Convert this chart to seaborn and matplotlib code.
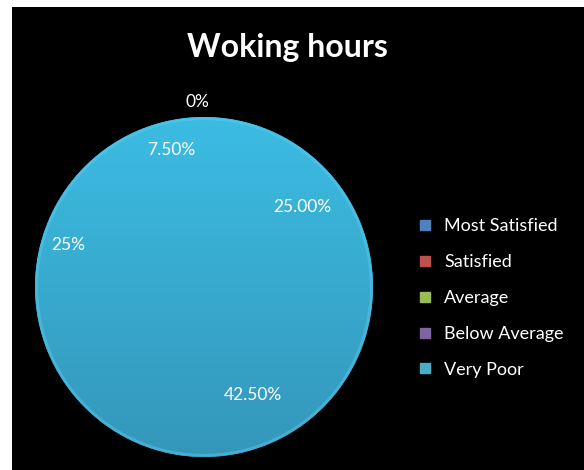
import numpy as np
import matplotlib
matplotlib.use("Agg")
import matplotlib.pyplot as plt
from matplotlib.patches import Rectangle, Circle
from matplotlib.lines import Line2D
import seaborn as sns

# data
categories = ['Most Satisfied', 'Satisfied', 'Average', 'Below Average', 'Very Poor']
shares = [0.0, 25.0, 42.5, 25.0, 7.5]
pct_labels = ['0%', '25.00%', '42.50%', '25%', '7.50%']
title = 'Woking hours'

# legend swatch colours (office palette); the slices themselves are all one cyan
legend_colors = sns.color_palette(['#4F81BD', '#C0504D', '#9BBB59', '#8064A2', '#4BACC6'])
slice_color = '#3AB4DA'
# excel "best fit" label placement: radius and small angle nudge per slice
label_radius = [1.09, 0.75, 0.70, 0.84, 0.83]
label_nudge = [2, -6, 11, 1, 0]

sns.set_style('dark')
plt.rcParams['font.family'] = ['Lato', 'DejaVu Sans']

fig = plt.figure(figsize=(5.84, 4.70), dpi=100, facecolor='white')
# black chart area with the thin white margin on left/top
fig.patches.append(Rectangle((12 / 584, 0), 1 - 12 / 584, 1 - 7 / 470,
                             transform=fig.transFigure, facecolor='black',
                             edgecolor='none', zorder=-5))

ax = fig.add_axes([35 / 584, 13 / 470, 338 / 584, 340 / 470])
ax.set_zorder(2)
ax.set_facecolor('none')
wedges, texts = ax.pie(shares, labels=pct_labels, colors=[slice_color] * len(shares),
                       startangle=90, counterclock=False, labeldistance=0.8,
                       wedgeprops=dict(linewidth=0),
                       textprops=dict(color='white', fontsize=12.5))

# soft vertical shading like the original 3d-ish fill
grad = np.linspace(0, 1, 256).reshape(-1, 1)
cmap = matplotlib.colors.LinearSegmentedColormap.from_list('sh', ['#3497BA', '#3CBCE3'])
img = ax.imshow(grad, extent=[-1, 1, -1, 1], origin='lower', cmap=cmap,
                aspect='auto', zorder=1.5)
clip = Circle((0, 0), 1, transform=ax.transData)
img.set_clip_path(clip)
rim = Circle((0, 0), 0.99, facecolor='none', edgecolor='#5CCBEE', linewidth=2,
             alpha=0.45, zorder=1.6)
ax.add_patch(rim)
ax.set_xlim(-1, 1)
ax.set_ylim(-1, 1)
ax.set_aspect('auto')

for w, t, r, nd in zip(wedges, texts, label_radius, label_nudge):
    ang = np.deg2rad((w.theta1 + w.theta2) / 2 + nd)
    t.set_position((r * np.cos(ang), r * np.sin(ang)))
    t.set_ha('center')
    t.set_va('center')
    t.set_zorder(3)
    t.set_clip_on(False)

fig.text(287 / 584, 1 - 48 / 470, title, color='white', fontsize=23,
         fontweight='bold', ha='center', va='center')

handles = [Line2D([], [], linestyle='none', marker='s', markersize=7,
                  markerfacecolor=c, markeredgecolor=c) for c in legend_colors]
leg = fig.legend(handles, categories, loc='center left',
                 bbox_to_anchor=(402 / 584, 1 - 298 / 470), frameon=False,
                 labelcolor='white', fontsize=13, handlelength=0.7,
                 handletextpad=0.75, labelspacing=1.1)

fig.savefig('out.png', dpi=100, facecolor='white')
